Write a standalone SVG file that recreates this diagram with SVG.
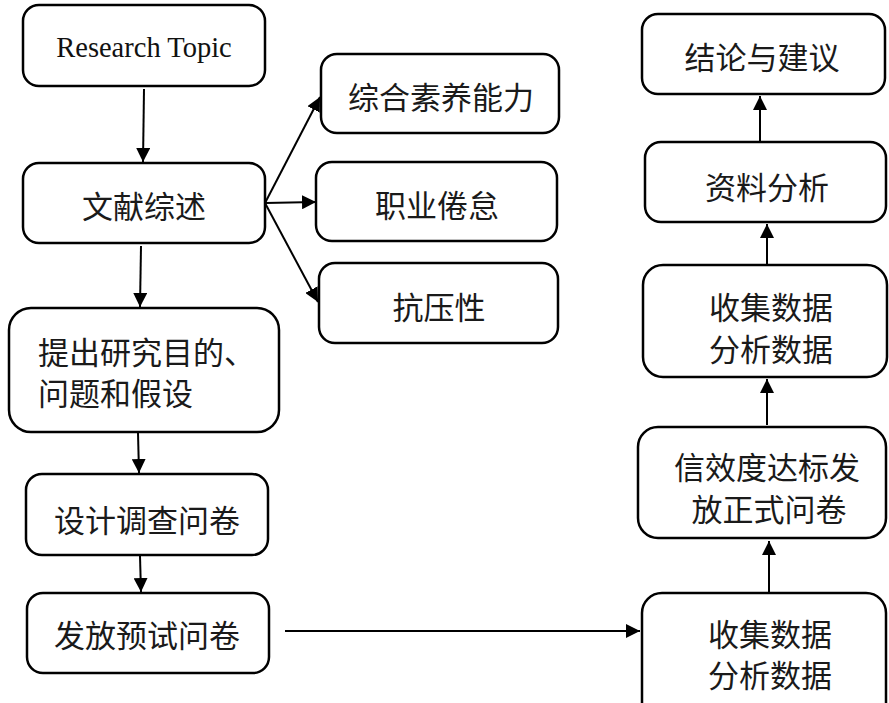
<svg xmlns="http://www.w3.org/2000/svg" width="889" height="703" viewBox="0 0 889 703">
<defs>
<style>
.box{fill:#fff;stroke:#000;stroke-width:2.5}
.t{font-family:"Noto Sans CJK SC","Liberation Serif",serif;font-size:31px;fill:#1a1a1a;text-anchor:middle;dominant-baseline:central}
.e{font-family:"Liberation Serif",serif;font-size:28.5px;fill:#111;text-anchor:middle;dominant-baseline:central}
.c{fill:none;stroke:#000;stroke-width:2;marker-end:url(#ah)}
</style>
<marker id="ah" markerUnits="userSpaceOnUse" markerWidth="14" markerHeight="14" viewBox="0 0 14 14" refX="14" refY="7" orient="auto">
<path d="M0,0 L14,7 L0,14 z" fill="#000"/>
</marker>
</defs>
<rect width="889" height="703" fill="#fff"/>
<g id="connectors">
<line class="c" x1="144" y1="89" x2="143" y2="162"/>
<line class="c" x1="141" y1="246" x2="140" y2="307"/>
<line class="c" x1="138" y1="433" x2="139" y2="473"/>
<line class="c" x1="140" y1="556" x2="141" y2="592"/>
<line class="c" x1="265" y1="203" x2="320" y2="97"/>
<line class="c" x1="265" y1="203" x2="316" y2="202"/>
<line class="c" x1="265" y1="203" x2="318" y2="302"/>
<line class="c" x1="285" y1="631" x2="640" y2="631"/>
<line class="c" x1="769" y1="593" x2="769" y2="541"/>
<line class="c" x1="767" y1="425" x2="767" y2="379"/>
<line class="c" x1="767" y1="264" x2="767" y2="224"/>
<line class="c" x1="760" y1="141" x2="760" y2="96"/>
</g>
<g id="n1"><rect class="box" x="23" y="5" width="242" height="81" rx="16"/><text class="e" x="144" y="47">Research Topic</text></g>
<g id="n2"><rect class="box" x="23" y="163" width="242" height="80" rx="16"/><text class="t" x="144" y="204">文献综述</text></g>
<g id="n3"><rect class="box" x="321" y="54" width="238" height="79" rx="16"/><text class="t" x="441" y="95">综合素养能力</text></g>
<g id="n4"><rect class="box" x="316" y="162" width="241" height="79" rx="16"/><text class="t" x="437" y="203">职业倦怠</text></g>
<g id="n5"><rect class="box" x="319" y="263" width="239" height="80" rx="16"/><text class="t" x="439" y="305">抗压性</text></g>
<g id="n6"><rect class="box" x="9" y="308" width="270" height="124" rx="22"/><text class="t" x="38" y="350" style="text-anchor:start">提出研究目的、</text><text class="t" x="38" y="391" style="text-anchor:start">问题和假设</text></g>
<g id="n7"><rect class="box" x="26" y="474" width="242" height="81" rx="16"/><text class="t" x="147" y="518">设计调查问卷</text></g>
<g id="n8"><rect class="box" x="27" y="593" width="242" height="80" rx="16"/><text class="t" x="147" y="633">发放预试问卷</text></g>
<g id="n9"><rect class="box" x="642" y="14" width="243" height="80" rx="16"/><text class="t" x="762" y="55">结论与建议</text></g>
<g id="n10"><rect class="box" x="645" y="142" width="241" height="80" rx="16"/><text class="t" x="767" y="185">资料分析</text></g>
<g id="n11"><rect class="box" x="643" y="265" width="244" height="112" rx="20"/><text class="t" x="771" y="305">收集数据</text><text class="t" x="771" y="347">分析数据</text></g>
<g id="n12"><rect class="box" x="638" y="427" width="248" height="111" rx="20"/><text class="t" x="767" y="465">信效度达标发</text><text class="t" x="769" y="507">放正式问卷</text></g>
<g id="n13"><rect class="box" x="642" y="593" width="244" height="130" rx="20"/><text class="t" x="770" y="632">收集数据</text><text class="t" x="770" y="673">分析数据</text></g>
</svg>
